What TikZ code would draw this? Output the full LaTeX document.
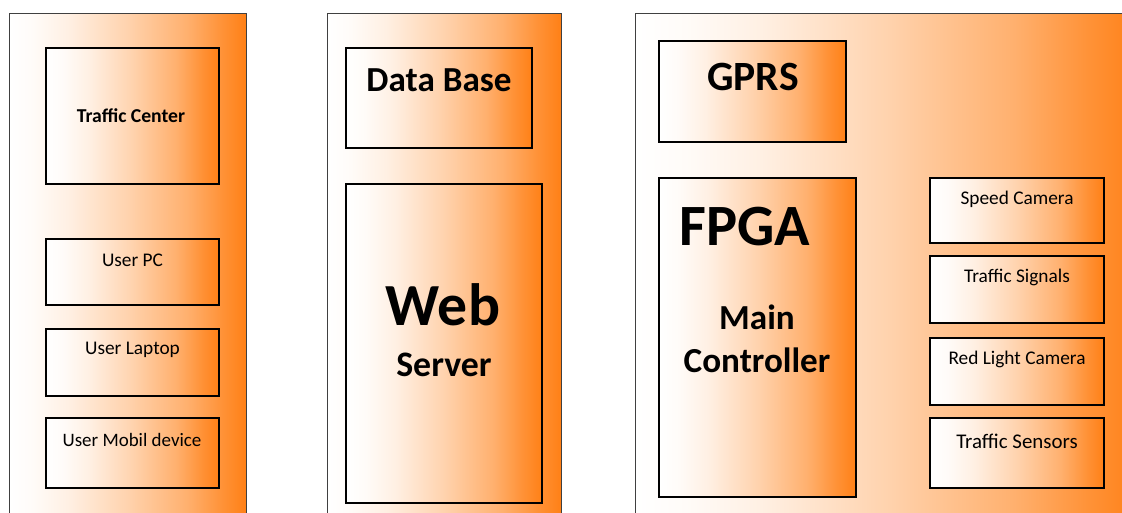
\documentclass[tikz,border=0pt]{standalone}
\usepackage{fontspec}
\setmainfont{Carlito}
\usetikzlibrary{positioning,calc}
\definecolor{boxOrange}{RGB}{255,128,22}
\colorlet{fadeA}{boxOrange!3}
\colorlet{fadeB}{boxOrange!12}
\colorlet{fadeC}{boxOrange!35}
\colorlet{fadeD}{boxOrange!62}
\colorlet{fadeE}{boxOrange!86}
\pgfdeclarehorizontalshading{orangefade}{100bp}{color(0bp)=(white); color(25bp)=(white); color(30bp)=(fadeA); color(37.5bp)=(fadeB); color(50bp)=(fadeC); color(62.5bp)=(fadeD); color(70bp)=(fadeE); color(75bp)=(boxOrange); color(100bp)=(boxOrange)}

\begin{document}
\begin{tikzpicture}[x=0.02cm,y=-0.02cm,
    panel/.style={draw=black!75, line width=0.5pt, shading=orangefade},
    unit/.style={draw=black, line width=0.7pt, shading=orangefade},
    small/.style={inner sep=0pt, font=\fontsize{#1}{#1}\selectfont},
    small/.default=11,
    big/.style={inner sep=0pt, font=\fontsize{#1}{#1}\selectfont\bfseries}]
    \useasboundingbox (0,0) rectangle (1122,512);
    \clip (0,0) rectangle (1122,512);
    % Left: traffic center and users
    \draw[panel] (9,13) rectangle (246,530);
    \draw[unit] (46,48) rectangle (219,184);
    \draw[unit] (46,239) rectangle (219,305);
    \draw[unit] (46,329) rectangle (219,396);
    \draw[unit] (46,418) rectangle (219,488);
    \node[big=11.2] (tc) at (131,116) {Traffic Center};
    \node[small] (pc) at (132.5,260) {User PC};
    \node[small] (laptop) at (132.5,350) {User Laptop};
    \node[small=10.8] (mobil) at (132,440) {User Mobil device};
    % Middle: server side
    \draw[panel] (327,13) rectangle (561,530);
    \draw[unit] (346,48) rectangle (532,148);
    \draw[unit] (346,184) rectangle (542,503);
    \node[big=20] (db) at (439,80) {Data Base};
    \node[big=34] (web) at (443,305) {Web};
    \node[big=20.4] (server) at (444,365) {Server};
    % Right: field unit
    \draw[panel] (635,13) rectangle (1140,530);
    \draw[unit] (659,41) rectangle (846,142);
    \draw[unit] (659,178) rectangle (856,497);
    \node[big=23.7] (gprs) at (753,77) {GPRS};
    \node[big=33.3] (fpga) at (745,227) {FPGA};
    \node[big=20] (main) at (757,317) {Main};
    \node[big=20] (ctrl) at (757,360) {Controller};
    \draw[unit] (930,178) rectangle (1104,243);
    \draw[unit] (930,256) rectangle (1104,323);
    \draw[unit] (930,338) rectangle (1104,405);
    \draw[unit] (930,418) rectangle (1104,488);
    \node[small] (speed) at (1017,199) {Speed Camera};
    \node[small] (signals) at (1017,277) {Traffic Signals};
    \node[small] (redlight) at (1017,359) {Red Light Camera};
    \node[small=11.9] (sensors) at (1017,441) {Traffic Sensors};
\end{tikzpicture}
\end{document}
